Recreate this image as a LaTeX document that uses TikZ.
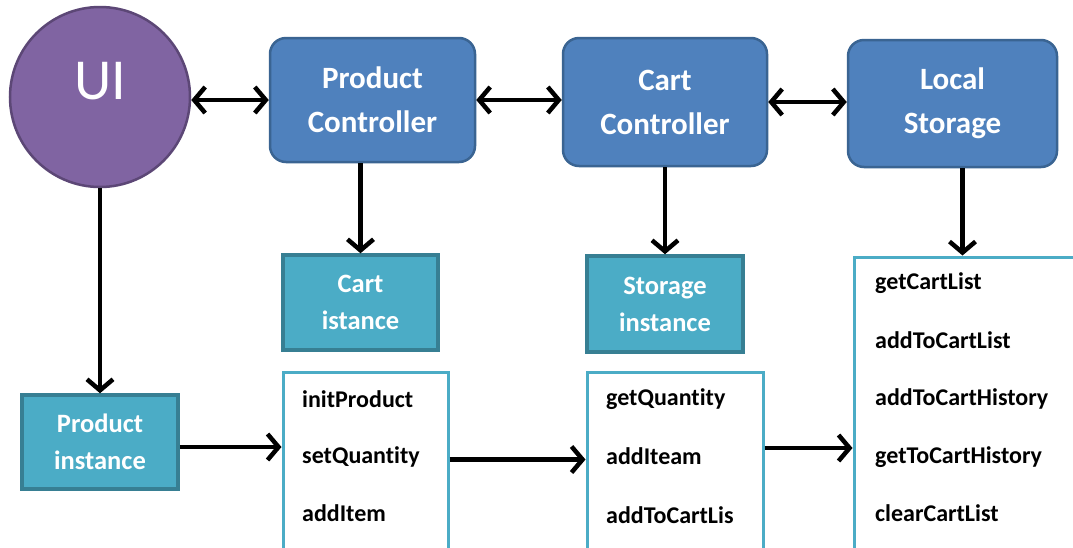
\documentclass[tikz,border=0pt]{standalone}
\usepackage{fontspec}
\setmainfont{Carlito}[Ligatures={NoCommon}]
\usetikzlibrary{arrows.meta}
\definecolor{uifill}{HTML}{8064A2}
\definecolor{uidraw}{HTML}{5C4776}
\definecolor{ctlfill}{HTML}{4F81BD}
\definecolor{ctldraw}{HTML}{3A6492}
\definecolor{instfill}{HTML}{4BACC6}
\definecolor{instdraw}{HTML}{377F93}
\begin{document}
\begin{tikzpicture}[x=1pt,y=-1pt,
  ctl/.style={draw=ctldraw,fill=ctlfill,line width=2.5pt,rounded corners=16pt,
    text=white,font=\fontsize{31}{44}\selectfont\bfseries,align=center,inner sep=0pt},
  inst/.style={draw=instdraw,fill=instfill,line width=3.5pt,
    text=white,font=\fontsize{26.5}{37}\selectfont\bfseries,align=center,inner sep=0pt},
  listbox/.style={draw=instfill,line width=3pt,fill=white,inner sep=0pt},
  item/.style={anchor=west,inner sep=0pt,font=\fontsize{24}{26}\selectfont\bfseries,text=black},
  arr/.style={line width=4.5pt,-{Straight Barb[length=11pt,width=26pt]}},
  darr/.style={line width=4.5pt,{Straight Barb[length=11pt,width=26pt]}-{Straight Barb[length=11pt,width=26pt]}}
]
\useasboundingbox (0,0) rectangle (1073,547);
\clip (0,0) rectangle (1073,547);
\fill[white] (0,0) rectangle (1073,547);

% UI
\node[circle,draw=uidraw,fill=uifill,line width=2.5pt,minimum size=180pt,inner sep=0pt] (ui) at (100,97) {};
\node[text=white,font=\fontsize{58}{60}\selectfont,inner sep=0pt] (uitxt) at (100,81) {UI};

% controllers
\node[ctl,minimum width=205pt,minimum height=124pt] (pc) at (372.5,100) {Product\\Controller};
\node[ctl,minimum width=204pt,minimum height=128pt] (cc) at (665,102) {Cart\\Controller};
\node[ctl,minimum width=209pt,minimum height=127pt] (ls) at (952.5,103.5) {Local\\Storage};

% instances
\node[inst,minimum width=155pt,minimum height=95pt] (ci) at (360.5,302.5) {Cart\\istance};
\node[inst,minimum width=156pt,minimum height=96pt] (si) at (665,304) {Storage\\instance};
\node[inst,minimum width=156pt,minimum height=94pt] (pi) at (100,442) {Product\\instance};

% list boxes (open below the page edge)
\node[listbox,minimum width=165pt,minimum height=228pt] (l1) at (365.5,486) {};
\node[listbox,minimum width=176pt,minimum height=228pt] (l2) at (675,486) {};
\node[listbox,minimum width=260pt,minimum height=343pt] (l3) at (984,428.5) {};

\node[item] (a1) at (302,399) {initProduct};
\node[item] (a2) at (302,457) {setQuantity};
\node[item] (a3) at (302,513) {addItem};

\node[item] (b1) at (606,399) {getQuantity};
\node[item] (b2) at (606,456) {addIteam};
\node[item] (b3) at (606,515) {addToCartLis};

\node[item] (c1) at (875,283) {getCartList};
\node[item] (c2) at (875,340) {addToCartList};
\node[item] (c3) at (875,399) {addToCartHistory};
\node[item] (c4) at (875,457) {getToCartHistory};
\node[item] (c5) at (875,513) {clearCartList};

% connectors
\draw[darr] (ui.east |- pc.west) -- (pc.west);
\draw[darr] (pc.east) -- (cc.west |- pc.east);
\draw[darr] (cc.east) -- (ls.west |- cc.east);

\draw[arr] (pc.south -| ci) -- (ci.north);
\draw[arr] (cc.south -| si) -- (si.north);
\draw[arr] ([xshift=10pt]ls.south) -- ([xshift=10pt]ls.south |- l3.north);
\draw[arr] (ui.south) -- (pi.north);

\draw[arr] ([yshift=-5pt]pi.east) -- ([yshift=-5pt]pi.east -| l1.west);
\draw[arr] (l1.east |- a2.south) ++(0,-8) coordinate (s12) -- (s12 -| l2.west);
\draw[arr] (l2.east |- b2) ++(0,-8) coordinate (s23) -- (s23 -| l3.west);
\end{tikzpicture}
\end{document}
